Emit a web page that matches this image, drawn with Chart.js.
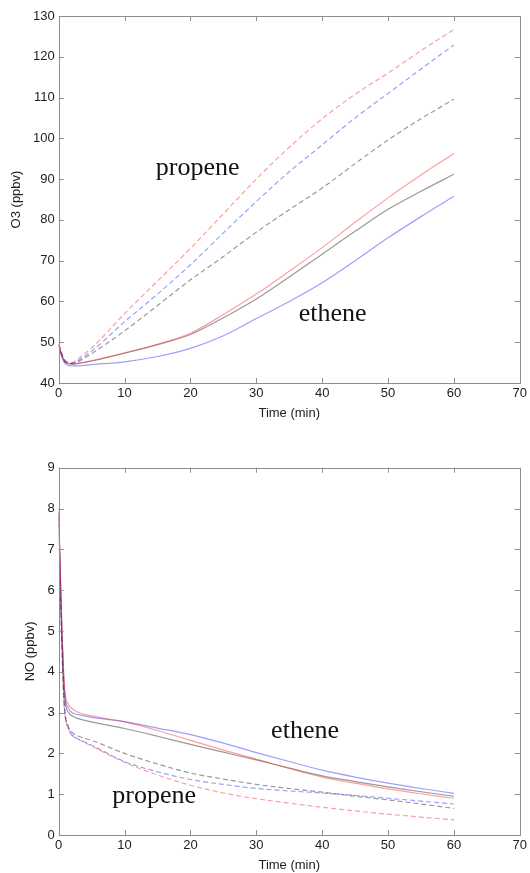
<!DOCTYPE html>
<html>
<head>
<meta charset="utf-8">
<script src="https://cdn.jsdelivr.net/npm/chart.js@4.4.1/dist/chart.umd.min.js"></script>
<style>
  body { margin: 0; background: #fff; }
  #wrap { position: relative; width: 530px; height: 873px; }
  canvas { position: absolute; left: 0; }
</style>
</head>
<body>
<div id="wrap">
  <canvas id="o3" width="530" height="430" style="top:0"></canvas>
  <canvas id="no" width="530" height="443" style="top:430px"></canvas>
</div>
<script>
// O3 panel
const o3Time = [0, 0.5, 1, 2, 3, 5, 10, 15, 20, 25, 30, 35, 40, 45, 50, 55, 60];
const o3PropeneRed   = [49.5, 47.0, 45.5, 45.0, 46.0, 48.6, 57.0, 65.0, 73.0, 81.5, 90.0, 97.8, 104.8, 110.8, 116.0, 121.5, 126.7];
const o3PropeneBlue  = [49.5, 47.0, 45.3, 44.8, 45.6, 47.8, 55.0, 61.8, 69.0, 76.8, 84.5, 91.8, 98.4, 105.0, 111.0, 117.0, 122.9];
const o3PropeneBlack = [49.5, 47.0, 45.3, 44.8, 45.3, 47.2, 52.8, 59.0, 65.3, 71.0, 77.0, 82.5, 87.8, 93.8, 99.6, 104.8, 109.6];
const o3EtheneRed    = [49.5, 46.8, 45.2, 44.7, 44.9, 45.5, 47.4, 49.5, 52.2, 56.8, 61.8, 67.4, 73.2, 79.4, 85.4, 91.0, 96.3];
const o3EtheneBlack  = [49.3, 46.6, 45.0, 44.6, 44.8, 45.4, 47.3, 49.4, 51.9, 56.0, 60.6, 66.0, 71.6, 77.2, 82.6, 87.0, 91.2];
const o3EtheneBlue   = [49.3, 46.3, 44.7, 44.2, 44.2, 44.5, 45.2, 46.5, 48.5, 51.6, 55.8, 60.0, 64.6, 70.0, 75.6, 80.8, 85.8];

// NO panel
const noTime = [0, 0.25, 0.5, 0.75, 1, 1.5, 2, 3, 5, 10, 15, 20, 25, 30, 35, 40, 45, 50, 55, 60];
const noEtheneRed    = [8.0, 6.4, 5.0, 4.0, 3.45, 3.2, 3.1, 3.0, 2.92, 2.77, 2.56, 2.32, 2.08, 1.86, 1.63, 1.42, 1.27, 1.13, 1.01, 0.90];
const noEtheneBlue   = [7.9, 6.3, 4.9, 3.9, 3.35, 3.1, 3.0, 2.95, 2.88, 2.78, 2.62, 2.46, 2.25, 2.02, 1.80, 1.59, 1.42, 1.27, 1.14, 1.02];
const noEtheneBlack  = [7.9, 6.3, 4.9, 3.8, 3.25, 3.0, 2.92, 2.85, 2.77, 2.61, 2.42, 2.22, 2.03, 1.84, 1.64, 1.45, 1.31, 1.18, 1.06, 0.95];
const noPropeneBlack = [7.8, 6.0, 4.6, 3.5, 2.95, 2.65, 2.52, 2.42, 2.32, 2.00, 1.74, 1.52, 1.37, 1.24, 1.14, 1.05, 0.95, 0.86, 0.76, 0.65];
const noPropeneBlue  = [7.8, 6.0, 4.6, 3.4, 2.9, 2.6, 2.45, 2.35, 2.20, 1.80, 1.55, 1.36, 1.24, 1.14, 1.08, 1.03, 0.97, 0.90, 0.83, 0.76];
const noPropeneRed   = [7.9, 6.0, 4.6, 3.4, 2.9, 2.6, 2.45, 2.35, 2.18, 1.78, 1.47, 1.22, 1.03, 0.89, 0.78, 0.68, 0.59, 0.51, 0.44, 0.37];

const RED = 'rgba(255, 40, 40, 0.45)';
const BLUE = 'rgba(40, 40, 255, 0.45)';
const BLACK = 'rgba(0, 0, 0, 0.4)';
const DASH = [5, 3];

const tickFont = { family: 'Liberation Sans, Arial, sans-serif', size: 13 };

function series(time, vals, color, dashed) {
    return {
        data: time.map((t, i) => ({ x: t, y: vals[i] })),
        borderColor: color,
        borderWidth: 1.2,
        borderDash: dashed ? DASH : [],
        pointRadius: 0,
        cubicInterpolationMode: 'monotone',
        fill: false
    };
}

// box around the plot with inward ticks on all four sides
const frame = {
    id: 'frame',
    afterDatasetsDraw(chart) {
        const { ctx, chartArea: a, scales: { x, y } } = chart;
        ctx.save();
        ctx.strokeStyle = '#8e8e8e';
        ctx.lineWidth = 1;
        ctx.strokeRect(Math.round(a.left) + 0.5, Math.round(a.top) + 0.5,
                       Math.round(a.width), Math.round(a.height));
        ctx.beginPath();
        x.ticks.forEach(t => {
            const px = Math.round(x.getPixelForValue(t.value)) + 0.5;
            ctx.moveTo(px, a.bottom); ctx.lineTo(px, a.bottom - 5);
            ctx.moveTo(px, a.top); ctx.lineTo(px, a.top + 5);
        });
        y.ticks.forEach(t => {
            const py = Math.round(y.getPixelForValue(t.value)) + 0.5;
            ctx.moveTo(a.left, py); ctx.lineTo(a.left + 5, py);
            ctx.moveTo(a.right, py); ctx.lineTo(a.right - 5, py);
        });
        ctx.stroke();
        ctx.restore();
    }
};

// "propene" / "ethene" labels placed in data coordinates
const curveLabels = {
    id: 'curveLabels',
    afterDraw(chart, args, opts) {
        const { ctx, scales: { x, y } } = chart;
        ctx.save();
        ctx.font = '26px "Liberation Serif", "Times New Roman", serif';
        ctx.fillStyle = '#111';
        ctx.textAlign = 'center';
        ctx.textBaseline = 'alphabetic';
        opts.items.forEach(it => {
            ctx.fillText(it.text, x.getPixelForValue(it.x), y.getPixelForValue(it.y));
        });
        ctx.restore();
    }
};

function makeChart(id, datasets, cfg) {
    return new Chart(document.getElementById(id), {
        type: 'line',
        data: { datasets },
        plugins: [frame, curveLabels],
        options: {
            responsive: false,
            animation: false,
            events: [],
            layout: { padding: { left: 0, top: cfg.padTop, right: 7.7, bottom: 0 } },
            plugins: {
                legend: { display: false },
                tooltip: { enabled: false },
                curveLabels: { items: cfg.labels }
            },
            scales: {
                x: {
                    type: 'linear',
                    min: 0, max: 70,
                    grid: { display: false, drawTicks: false },
                    border: { display: false },
                    ticks: { stepSize: 10, padding: 3, color: '#222', font: tickFont, maxRotation: 0 },
                    title: { display: true, text: 'Time (min)', color: '#222', font: tickFont,
                             padding: { top: 0, bottom: cfg.xTitlePad } },
                    afterFit: s => { s.height = cfg.xHeight; }
                },
                y: {
                    min: cfg.yMin, max: cfg.yMax,
                    grid: { display: false, drawTicks: false },
                    border: { display: false },
                    ticks: { stepSize: cfg.yStep, padding: 4, color: '#222', font: tickFont },
                    title: { display: true, text: cfg.yTitle, color: '#222', font: tickFont,
                             padding: { top: cfg.yTitlePad, bottom: 0 } },
                    afterFit: s => { s.width = 58.7; }
                }
            }
        }
    });
}

makeChart('o3', [
    series(o3Time, o3PropeneRed, RED, true),
    series(o3Time, o3PropeneBlue, BLUE, true),
    series(o3Time, o3PropeneBlack, BLACK, true),
    series(o3Time, o3EtheneRed, RED, false),
    series(o3Time, o3EtheneBlack, BLACK, false),
    series(o3Time, o3EtheneBlue, BLUE, false)
], {
    padTop: 16, xHeight: 47, xTitlePad: 9.2,
    yMin: 40, yMax: 130, yStep: 10, yTitle: 'O3 (ppbv)', yTitlePad: 8.5,
    labels: [
        { text: 'propene', x: 21.1, y: 90.9 },
        { text: 'ethene', x: 41.6, y: 55.3 }
    ]
});

makeChart('no', [
    series(noTime, noEtheneRed, RED, false),
    series(noTime, noEtheneBlue, BLUE, false),
    series(noTime, noEtheneBlack, BLACK, false),
    series(noTime, noPropeneBlack, BLACK, true),
    series(noTime, noPropeneBlue, BLUE, true),
    series(noTime, noPropeneRed, RED, true)
], {
    padTop: 37.7, xHeight: 38, xTitlePad: 0.2,
    yMin: 0, yMax: 9, yStep: 1, yTitle: 'NO (ppbv)', yTitlePad: 22.5,
    labels: [
        { text: 'ethene', x: 37.4, y: 2.37 },
        { text: 'propene', x: 14.5, y: 0.79 }
    ]
});
</script>
</body>
</html>
